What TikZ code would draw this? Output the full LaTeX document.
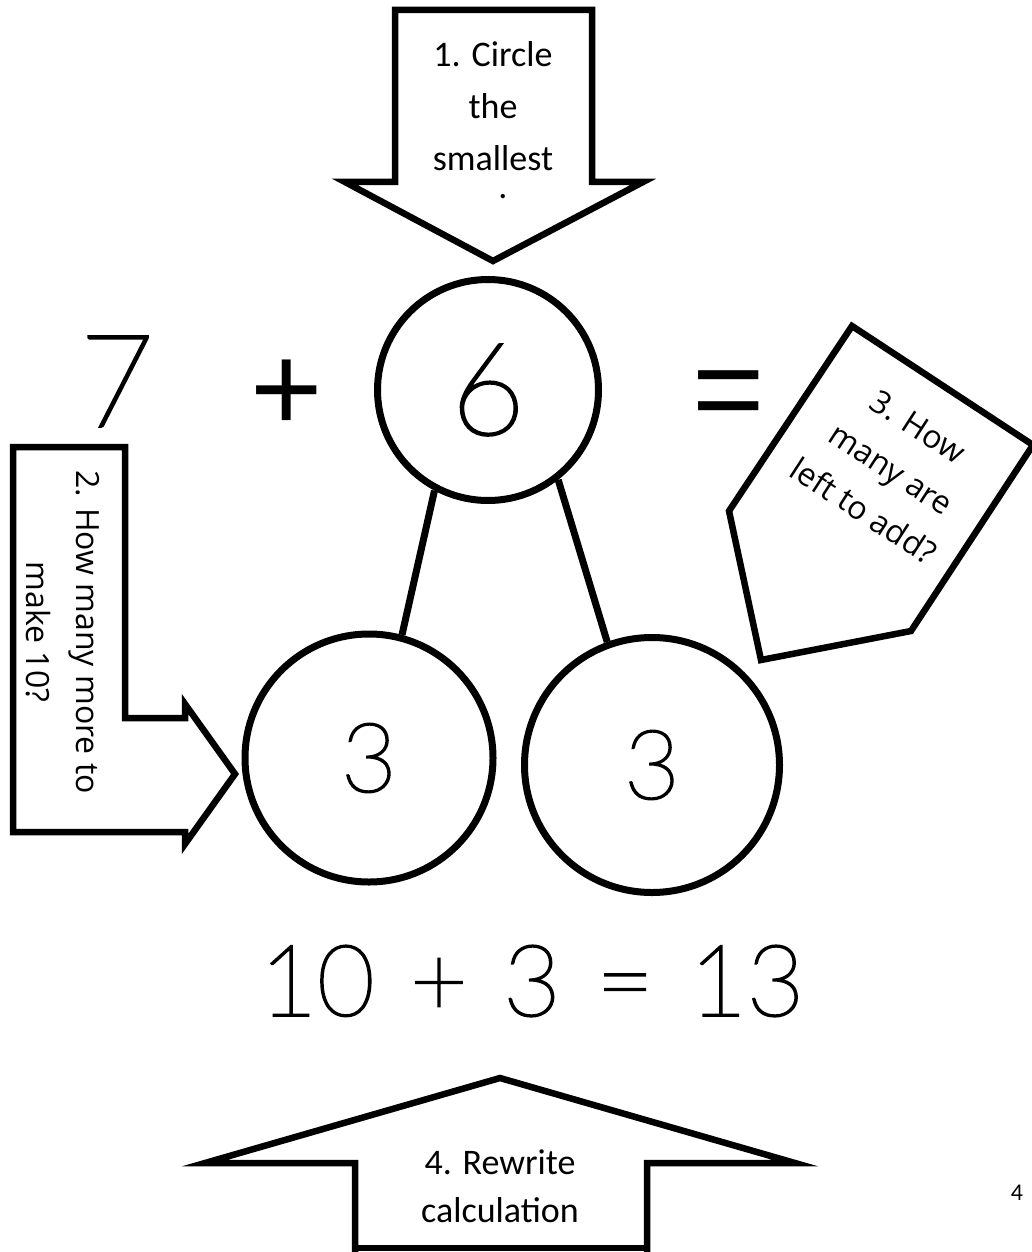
\documentclass[tikz,border=0pt]{standalone}
\usepackage{fontspec}
\setmainfont{Carlito}
\newfontfamily\notefont{Open Sans}
\newfontfamily\signfont{Liberation Sans}
\IfFontExistsTF{Lato Thin}
  {\newfontfamily\numfont[FakeBold=2.3]{Lato Thin}}
  {\IfFontExistsTF{Lato Light}
    {\newfontfamily\numfont{Lato Light}}
    {\newfontfamily\numfont{DejaVu Sans}}}
\definecolor{nbInk}{HTML}{000000}
\definecolor{nbPaper}{HTML}{FFFFFF}
\tikzset{
  nbarrow/.style={draw=nbInk,fill=nbPaper,line width=6.5pt,line join=miter,miter limit=10},
  nbring/.style={circle,draw=nbInk,fill=nbPaper,line width=7pt,inner sep=0pt,text=nbInk},
  nbbig/.style={inner sep=0pt,text=nbInk,font=\numfont\fontsize{128}{128}\selectfont},
  nbmid/.style={font=\numfont\fontsize{96}{96}\selectfont},
  nbsign/.style={inner sep=0pt,anchor=base,text=nbInk,font=\signfont\fontsize{124}{124}\selectfont},
  nbsum/.style={inner sep=0pt,text=nbInk,font=\numfont\fontsize{99}{99}\selectfont},
  nbstep/.style={align=center,inner sep=0pt,text=nbInk,font=\fontsize{36}{52}\selectfont},
  nbtip/.style={align=center,inner sep=0pt,text=nbInk,font=\notefont\fontsize{32}{50}\selectfont},
  nbbranch/.style={draw=nbInk,line width=7pt}
}

\begin{document}
\begin{tikzpicture}[x=1pt,y=-1pt]

% ---- HOJA ----
\fill[nbPaper] (0,0) rectangle (1031,1252);
\useasboundingbox (0,0) rectangle (1031,1252);

% ---- FLECHA 1: ARRIBA ----
\draw[nbarrow] (395,10) -- (592,10) -- (592,182) -- (643,182) -- (493,261) -- (345,182) -- (395,182) -- cycle;
\node[nbstep] (stepone) at (493,106) {1. Circle\\ the\\ smallest};
\node[nbstep] (stepcut) at (503,197) {.};

% ---- SUMA ----
\node[nbbig] (seven) at (117,381.5) {7};
\node[nbsign] (plus) at (287,431) {+};
\node[nbring,nbbig,minimum size=221pt] (six) at (488,390) {6};
\node[nbsign] (equals) at (729,431) {=};

% ---- DESCOMPOSICION ----
\node[nbring,nbmid,minimum size=248pt] (threeL) at (369,758) {3};
\node[nbring,nbmid,minimum size=255pt] (threeR) at (652,765) {3};
\draw[nbbranch] (six.242) -- (threeL.75);
\draw[nbbranch] (six.308) -- (threeR.110);

% ---- FLECHA 2: IZQUIERDA ----
\draw[nbarrow] (13,447) -- (125,447) -- (125,718) -- (185,718) -- (185,704) -- (235,774) -- (185,844) -- (185,832) -- (13,832) -- cycle;
\node[nbtip,rotate=-90] (steptwo) at (63,632) {2. How many more to\\ make 10?};

% ---- FLECHA 3: DERECHA ----
\draw[nbarrow] (852,326) -- (1033,445) -- (911,631) -- (761,660) -- (729,511) -- cycle;
\node[nbtip,rotate=-33] (stepthree) at (891,469) {3. How\\ many are\\ left to add?};

% ---- RESULTADO ----
\node[nbsum] (sum) at (532,981) {10\hspace{.36em}+\hspace{.36em}3\hspace{.36em}=\hspace{.36em}13};

% ---- FLECHA 4: ABAJO ----
\draw[nbarrow] (355,1252) -- (355,1163) -- (205,1163) -- (500,1078) -- (795,1163) -- (647,1163) -- (647,1252);
\draw[nbInk,line width=6.5pt] (351.75,1248) -- (650.25,1248);
\node[nbstep,font=\fontsize{36}{48}\selectfont] (stepfour) at (500,1186) {4. Rewrite\\ calculation};

% ---- PAGINA ----
\node[inner sep=0pt,text=nbInk,font=\fontsize{24}{24}\selectfont] (pagenum) at (1017,1193) {4};

\end{tikzpicture}
\end{document}
